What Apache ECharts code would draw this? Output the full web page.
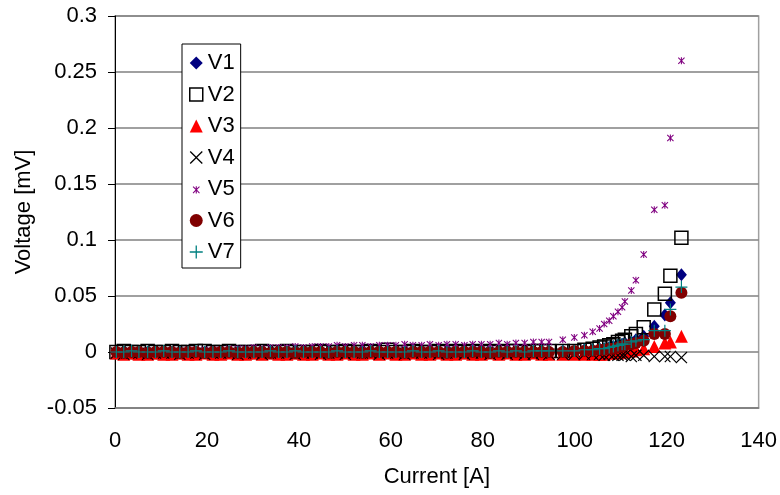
<!DOCTYPE html>
<html>
<head>
<meta charset="utf-8">
<script src="https://cdn.jsdelivr.net/npm/echarts@6/dist/echarts.min.js"></script>
<style>
  html, body { margin: 0; padding: 0; background: #fff; }
  #chart { width: 780px; height: 495px; }
</style>
</head>
<body>
<div id="chart"></div>
<script>
// measured current [A], shared by all channels
const current = [
  0.3, 1.9, 3.6, 5.2, 7.1, 8.8, 10.6, 12.4, 14.1, 15.9, 17.6, 19.5, 21.3,
  23.0, 24.8, 26.7, 28.4, 30.2, 32.0, 33.8, 35.6, 37.4, 39.2, 41.0, 42.9, 44.7,
  46.5, 48.3, 50.1, 52.0, 53.8, 55.6, 57.5, 59.3, 61.1, 63.0, 64.8, 66.7, 68.5,
  70.4, 72.2, 74.1, 76.0, 77.8, 79.7, 81.6, 83.5, 85.3, 87.2, 89.1, 91.0, 92.8,
  94.4, 97.4, 99.9, 102.1, 103.9, 105.4, 106.4, 107.5, 108.4, 109.4, 110.3, 110.9, 112.3, 113.3, 115.0, 117.3, 119.6, 120.8, 123.2
];

// voltage [mV] per channel
const v1 = [
  0, 0, 0.001, 0, 0, 0.001, 0, 0, 0, 0.001, 0, 0, 0.001,
  0, 0, 0, 0.001, 0, 0, 0.001, 0, 0, 0, 0.001, 0, 0,
  0.001, 0, 0, 0, 0.001, 0, 0, 0.001, 0, 0, 0, 0.001, 0,
  0.001, 0, 0, 0.001, 0, 0.001, 0, 0.001, 0.001, 0, 0.001, 0.001, 0.001,
  0.001, 0.001, 0.001, 0.002, 0.002, 0.003, 0.003, 0.004, 0.005, 0.006, 0.007, 0.008, 0.009, 0.011, 0.014, 0.023, 0.033, 0.044, 0.069
];
const v2 = [
  0, 0.001, 0, 0, 0.001, 0, 0, 0.001, 0, 0, 0.001, 0.001, 0,
  0, 0.001, 0, 0, 0, 0.001, 0, 0, 0.001, 0, 0, 0, 0.001,
  0, 0, 0.001, 0, 0, 0.001, 0, 0.002, 0, 0, 0.001, 0, 0,
  0.001, 0, 0.001, 0, 0.001, 0, 0.001, 0, 0.001, 0.001, 0, 0.001, 0.001,
  0.001, 0.001, 0.001, 0.002, 0.003, 0.004, 0.005, 0.006, 0.007, 0.009, 0.010, 0.011, 0.014, 0.016, 0.022, 0.038, 0.052, 0.068, 0.102
];
const v3 = [
  -0.001, -0.002, -0.001, -0.002, -0.002, -0.001, -0.002, -0.002, -0.001, -0.002, -0.002, -0.001, -0.002,
  -0.002, -0.001, -0.002, -0.002, -0.001, -0.002, -0.001, -0.002, -0.002, -0.001, -0.002, -0.002, -0.001,
  -0.002, -0.002, -0.001, -0.002, -0.002, -0.001, -0.002, -0.001, -0.002, -0.002, -0.001, -0.002, -0.002,
  -0.001, -0.002, -0.002, -0.001, -0.002, -0.002, -0.001, -0.002, -0.001, -0.002, -0.002, -0.001, -0.002,
  -0.002, -0.002, -0.002, -0.002, -0.002, -0.002, -0.002, -0.001, -0.001, -0.001, 0, 0, 0.001, 0.002, 0.003, 0.005, 0.008, 0.009, 0.014
];
const v4 = [
  -0.001, -0.002, -0.001, -0.001, -0.002, -0.001, -0.001, -0.001, -0.002, -0.001, -0.001, -0.002, -0.001,
  -0.001, -0.001, -0.002, -0.001, -0.001, -0.002, -0.001, -0.001, -0.001, -0.002, -0.001, -0.001, -0.002,
  -0.001, -0.001, -0.002, -0.001, -0.001, -0.001, -0.002, -0.001, -0.001, -0.002, -0.001, -0.001, -0.001,
  -0.002, -0.001, -0.001, -0.002, -0.001, -0.001, -0.002, -0.001, -0.002, -0.001, -0.002, -0.002, -0.001,
  -0.002, -0.002, -0.002, -0.002, -0.002, -0.002, -0.003, -0.002, -0.003, -0.003, -0.003, -0.003, -0.004, -0.003, -0.003, -0.004, -0.004, -0.004, -0.005
];
const v5 = [
  0, 0.001, 0, 0.001, 0.001, 0.001, 0.001, 0.002, 0.001, 0.002, 0.002, 0.002, 0.002,
  0.002, 0.003, 0.003, 0.003, 0.004, 0.003, 0.004, 0.004, 0.004, 0.005, 0.004, 0.005, 0.005,
  0.005, 0.006, 0.005, 0.006, 0.006, 0.005, 0.006, 0.006, 0.006, 0.007, 0.006, 0.006, 0.007,
  0.006, 0.007, 0.007, 0.006, 0.007, 0.007, 0.007, 0.008, 0.007, 0.008, 0.008, 0.009, 0.009,
  0.009, 0.011, 0.013, 0.015, 0.018, 0.021, 0.025, 0.028, 0.032, 0.036, 0.040, 0.045, 0.055, 0.064, 0.087, 0.127, 0.131, 0.191, 0.260
];
const v6 = [
  0, -0.001, 0, 0, -0.001, 0, 0, 0, -0.001, 0, 0, -0.001, 0,
  0, 0, -0.001, 0, 0, 0, -0.001, 0, 0, -0.001, 0, 0, 0,
  -0.001, 0, 0, 0, -0.001, 0, 0, 0, 0, -0.001, 0, 0, 0,
  0, -0.001, 0, 0, 0, 0, -0.001, 0, 0, 0, 0, 0, 0,
  0, 0, 0.001, 0.001, 0.001, 0.002, 0.002, 0.003, 0.003, 0.004, 0.005, 0.006, 0.007, 0.008, 0.010, 0.016, 0.016, 0.032, 0.053
];
const v7 = [
  0, 0, 0.001, 0, 0, 0, 0.001, 0, 0, 0, 0.001, 0, 0,
  0, 0.001, 0, 0, 0, 0, 0.001, 0, 0, 0.001, 0, 0, 0,
  0, 0.001, 0, 0, 0, 0.001, 0, 0, 0, 0, 0.001, 0, 0,
  0.001, 0, 0, 0, 0.001, 0, 0, 0.001, 0, 0.001, 0, 0.001, 0.001,
  0.001, 0.001, 0.001, 0.002, 0.002, 0.003, 0.003, 0.004, 0.005, 0.006, 0.007, 0.007, 0.009, 0.010, 0.011, 0.019, 0.019, 0.038, 0.058
];

const seriesNames = ["V1", "V2", "V3", "V4", "V5", "V6", "V7"];
const seriesValues = [v1, v2, v3, v4, v5, v6, v7];

const FONT = "Liberation Sans, Arial, sans-serif";
const PLUS = "path://M9,0H11V9H20V11H11V20H9V11H0V9H9Z";
const CROSS = "path://M0,1.4L1.4,0L10,8.6L18.6,0L20,1.4L11.4,10L20,18.6L18.6,20L10,11.4L1.4,20L0,18.6L8.6,10Z";
const STAR = "path://M0,2.1L2.1,0L10,7.9L17.9,0L20,2.1L12.1,10L20,17.9L17.9,20L10,12.1L2.1,20L0,17.9L7.9,10ZM8.5,0H11.5V20H8.5Z";
// legend keeps the small star small: tiny corner dots widen the path's box
const STAR_LEGEND = "path://M10,10L12.1,12.1L20,4.2L21.9,6.3L14.2,14.2L21.9,22.1L20,24.2L12.1,16.3L4.2,24.2L2.1,22.1L10,14.2L2.1,6.3L4.2,4.2L12.1,12.1ZM10.6,4.2H13.6V24.2H10.6ZM-6,-6h0.05v0.05h-0.05ZM30,30h0.05v0.05h-0.05Z";

// marker look per channel
const markers = [
  { symbol: "diamond", size: [11, 13], itemStyle: { color: "#000080", opacity: 1 } },
  { symbol: "rect", size: 13, itemStyle: { color: "rgba(0,0,0,0)", borderColor: "#000", borderWidth: 1.5, opacity: 1 } },
  { symbol: "triangle", size: 13, itemStyle: { color: "#ff0000", opacity: 1 } },
  { symbol: CROSS, size: 12, itemStyle: { color: "#000", opacity: 1 } },
  { symbol: STAR, size: 7, itemStyle: { color: "#800080", opacity: 1 } },
  { symbol: "circle", size: 12, itemStyle: { color: "#800000", opacity: 1 } },
  { symbol: PLUS, size: 12, itemStyle: { color: "#008080", opacity: 1 } }
];
const legendIcons = ["diamond", "rect", "triangle", CROSS, STAR_LEGEND, "circle", PLUS];

const chart = echarts.init(document.getElementById("chart"), null, { renderer: "canvas" });

chart.setOption({
  animation: false,
  textStyle: { fontFamily: FONT },
  grid: {
    left: 115,
    right: 19,
    top: 16,
    bottom: 87,
    show: true,
    borderColor: "#a0a0a0",
    borderWidth: 1.5
  },
  legend: {
    orient: "vertical",
    left: 182,
    top: 44,
    padding: [8, 6, 5, 7],
    itemGap: 9.5,
    itemWidth: 13,
    itemHeight: 13,
    backgroundColor: "#fff",
    borderColor: "#000",
    borderWidth: 1,
    borderRadius: 0,
    textStyle: { fontSize: 22, color: "#000", fontFamily: FONT },
    data: seriesNames.map((name, i) => ({
      name,
      icon: legendIcons[i],
      itemStyle: markers[i].itemStyle
    }))
  },
  xAxis: {
    type: "value",
    min: 0,
    max: 140,
    interval: 20,
    name: "Current [A]",
    nameLocation: "middle",
    nameGap: 58,
    nameTextStyle: { fontSize: 22, color: "#000", fontFamily: FONT },
    axisLine: { show: true, onZero: false, lineStyle: { color: "#808080", width: 1.5 } },
    axisTick: { show: false },
    splitLine: { show: false },
    axisLabel: { fontSize: 22, color: "#000", margin: 22, fontFamily: FONT }
  },
  yAxis: {
    type: "value",
    min: -0.05,
    max: 0.3,
    interval: 0.05,
    name: "Voltage [mV]",
    nameLocation: "middle",
    nameGap: 80,
    nameTextStyle: { fontSize: 22, color: "#000", fontFamily: FONT },
    axisLine: { show: true, onZero: false, lineStyle: { color: "#000", width: 1 } },
    axisTick: { show: true, inside: false, length: 7, lineStyle: { color: "#000" } },
    splitLine: { show: true, lineStyle: { color: "#808080", width: 1.5 } },
    axisLabel: { fontSize: 22, color: "#000", margin: 18, fontFamily: FONT }
  },
  series: seriesNames.map((name, i) => ({
    name,
    type: "scatter",
    symbol: markers[i].symbol,
    symbolSize: markers[i].size,
    itemStyle: markers[i].itemStyle,
    emphasis: { disabled: true },
    data: current.map((c, k) => [c, seriesValues[i][k]])
  }))
});
</script>
</body>
</html>
